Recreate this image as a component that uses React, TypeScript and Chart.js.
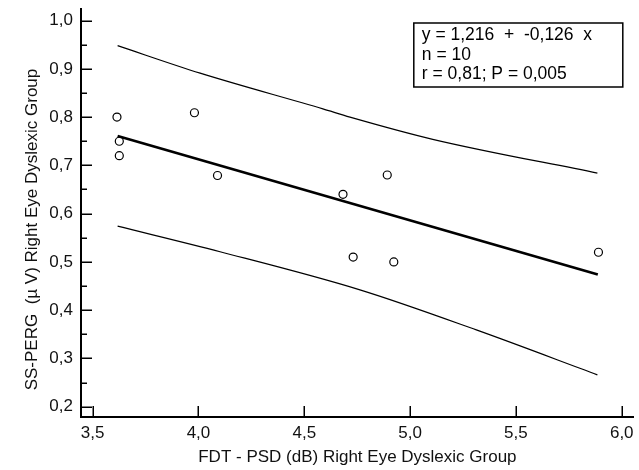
import React, { useEffect, useRef } from "react";
import { Chart, registerables } from "chart.js";

Chart.register(...registerables);

// ---- data ----
const pointX = [3.615, 3.626, 3.626, 3.981, 4.09, 4.683, 4.731, 4.892, 4.923, 5.89];
const pointY = [0.8, 0.75, 0.72, 0.809, 0.679, 0.64, 0.51, 0.68, 0.5, 0.52];

const fitX = [3.618, 5.887];
const fitY = [0.761, 0.474];

const upperX = [3.618, 4.008, 4.588, 4.716, 5.107, 5.885];
const upperY = [0.948, 0.891, 0.817, 0.8, 0.754, 0.684];

const lowerX = [3.618, 4.102, 4.763, 5.313, 5.885];
const lowerY = [0.574, 0.521, 0.442, 0.359, 0.266];

const xTicks = [3.5, 4.0, 4.5, 5.0, 5.5, 6.0];
const yTicks = [0.2, 0.3, 0.4, 0.5, 0.6, 0.7, 0.8, 0.9, 1.0];
const yMinorTicks = [0.25, 0.35, 0.45, 0.55, 0.65, 0.75, 0.85, 0.95];

const statLines = ["y = 1,216  +  -0,126  x", "n = 10", "r = 0,81; P = 0,005"];

const xTitle = "FDT - PSD (dB) Right Eye Dyslexic Group";
const yTitle = "SS-PERG  (\u00B5 V) Right Eye Dyslexic Group";

const FONT = "'Liberation Sans', Arial, sans-serif";

const zip = (xs: number[], ys: number[]) => xs.map((x, i) => ({ x, y: ys[i] }));
const fmt = (v: number) => v.toFixed(1).replace(".", ",");

const decorPlugin = {
  id: "decor",
  afterDraw(chart: any) {
    const { ctx, chartArea, scales } = chart;
    const xs = scales.x;
    const ys = scales.y;
    ctx.save();
    ctx.strokeStyle = "#000";
    ctx.lineWidth = 1.5;
    ctx.beginPath();
    xTicks.forEach((v) => {
      const px = Math.round(xs.getPixelForValue(v)) + 0.25;
      ctx.moveTo(px, chartArea.bottom);
      ctx.lineTo(px, chartArea.bottom - 11);
    });
    yTicks.forEach((v) => {
      const py = Math.round(ys.getPixelForValue(v)) + 0.25;
      ctx.moveTo(chartArea.left, py);
      ctx.lineTo(chartArea.left + 11, py);
    });
    yMinorTicks.forEach((v) => {
      const py = Math.round(ys.getPixelForValue(v)) + 0.25;
      ctx.moveTo(chartArea.left, py);
      ctx.lineTo(chartArea.left + 6, py);
    });
    ctx.stroke();

    // stats box
    const bw = 209;
    const bh = 64;
    const bx = chartArea.right - 11 - bw;
    const by = chartArea.top + 14;
    ctx.lineWidth = 1.5;
    ctx.strokeRect(bx, by, bw, bh);
    ctx.fillStyle = "#000";
    ctx.font = `17.5px ${FONT}`;
    ctx.textBaseline = "middle";
    ctx.textAlign = "left";
    statLines.forEach((t, i) => {
      ctx.fillText(t, bx + 8, by + 12.5 + i * 19.5);
    });
    ctx.restore();
  },
};

export default function App() {
  const ref = useRef<HTMLCanvasElement>(null);
  useEffect(() => {
    if (!ref.current) return;
    const chart = new Chart(ref.current, {
      type: "scatter",
      data: {
        datasets: [
          {
            label: "upper",
            data: zip(upperX, upperY),
            showLine: true,
            borderColor: "#000",
            borderWidth: 1.2,
            pointRadius: 0,
            cubicInterpolationMode: "monotone",
            fill: false,
          },
          {
            label: "lower",
            data: zip(lowerX, lowerY),
            showLine: true,
            borderColor: "#000",
            borderWidth: 1.2,
            pointRadius: 0,
            cubicInterpolationMode: "monotone",
            fill: false,
          },
          {
            label: "fit",
            data: zip(fitX, fitY),
            showLine: true,
            borderColor: "#000",
            borderWidth: 2.6,
            pointRadius: 0,
            fill: false,
          },
          {
            label: "points",
            data: zip(pointX, pointY),
            pointRadius: 4,
            pointBorderWidth: 1.2,
            pointBorderColor: "#000",
            pointBackgroundColor: "#fff",
            borderColor: "#000",
            backgroundColor: "#fff",
          },
        ],
      },
      options: {
        animation: false,
        responsive: false,
        devicePixelRatio: 1,
        layout: { padding: { top: 9, right: 5, left: 0, bottom: 0 } },
        plugins: {
          legend: { display: false },
          tooltip: { enabled: false },
        },
        font: { family: FONT },
        scales: {
          x: {
            type: "linear",
            min: 3.445,
            max: 6.057,
            afterFit: (s: any) => {
              s.height = 53;
              s.paddingLeft = 0;
              s.paddingRight = 0;
            },
            afterBuildTicks: (s: any) => {
              s.ticks = xTicks.map((v) => ({ value: v }));
            },
            grid: { display: false, drawTicks: false },
            border: { display: true, color: "#000", width: 2 },
            ticks: {
              padding: 6,
              color: "#111",
              font: { family: FONT, size: 17 },
              callback: (v: any) => fmt(Number(v)),
              autoSkip: false,
              maxRotation: 0,
            },
            title: {
              display: true,
              text: xTitle,
              color: "#111",
              font: { family: FONT, size: 17 },
              padding: { top: 0, bottom: 2 },
            },
          },
          y: {
            type: "linear",
            min: 0.1786,
            max: 1.024,
            afterFit: (s: any) => {
              s.width = 81;
              s.paddingTop = 0;
              s.paddingBottom = 0;
            },
            afterBuildTicks: (s: any) => {
              s.ticks = yTicks.map((v) => ({ value: v }));
            },
            grid: { display: false, drawTicks: false },
            border: { display: true, color: "#000", width: 2 },
            ticks: {
              padding: 8,
              color: "#111",
              font: { family: FONT, size: 17 },
              callback: (v: any) => fmt(Number(v)),
              autoSkip: false,
            },
            title: {
              display: true,
              text: yTitle + "       ",
              color: "#111",
              font: { family: FONT, size: 17 },
              padding: { top: 22, bottom: 0 },
            },
          },
        },
      },
      plugins: [decorPlugin],
    } as any);
    return () => chart.destroy();
  }, []);
  return (
    <div style={{ position: "absolute", left: 0, top: 0, width: 639, height: 470, background: "#fff" }}>
      <canvas ref={ref} width={639} height={470} style={{ display: "block" }} />
    </div>
  );
}
